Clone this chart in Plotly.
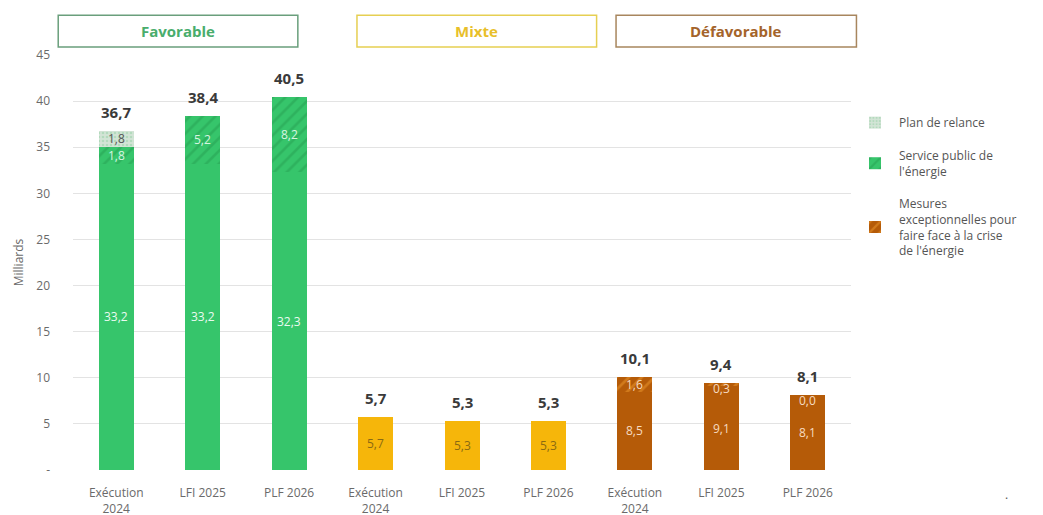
import plotly.graph_objects as go

# ---------------- data ----------------
tick_labels = ["Exécution<br>2024", "LFI 2025", "PLF 2026"] * 3
group_names = ["Favorable", "Mixte", "Défavorable"]
base_values = [33.2, 33.2, 32.3, 5.7, 5.3, 5.3, 8.5, 9.1, 8.1]
service_public = [1.8, 5.2, 8.2, None, None, None, None, None, None]
mesures_crise = [None, None, None, None, None, None, 1.6, 0.3, 0.0]
plan_relance = [1.8, None, None, None, None, None, None, None, None]
totals = [36.7, 38.4, 40.5, 5.7, 5.3, 5.3, 10.1, 9.4, 8.1]

# ---------------- styles ----------------
GREEN = "#36c56b"
GREEN_DARK = "#25a052"
YELLOW = "#f6b60a"
ORANGE = "#b55b08"
ORANGE_LIGHT = "#ee9a2e"
RELANCE = "#d3e4d6"
RELANCE_FG = "#93cfa3"
FONT = "Open Sans"
base_colors = [GREEN] * 3 + [YELLOW] * 3 + [ORANGE] * 3
base_label_colors = ["#eafaf0"] * 3 + ["#8a6a12"] * 3 + ["#f7dcc0"] * 3

x = list(range(len(tick_labels)))


def fr(v):
    return f"{v:.1f}".replace(".", ",")


fig = go.Figure()
fig.add_trace(go.Bar(
    x=x, y=base_values, marker=dict(color=base_colors, line=dict(width=0)),
    showlegend=False, hoverinfo="skip", name="base"))
fig.add_trace(go.Bar(
    x=x, y=service_public, name="Service public de<br>l'énergie", legendrank=2,
    legendgroup="b",
    marker=dict(color=GREEN, line=dict(width=0),
                pattern=dict(shape="/", fgcolor=GREEN_DARK, bgcolor=GREEN,
                             size=9, solidity=0.3))))
fig.add_trace(go.Bar(
    x=x, y=mesures_crise,
    name="Mesures<br>exceptionnelles pour<br>faire face à la crise<br>de l'énergie",
    legendrank=3, legendgroup="c",
    marker=dict(color=ORANGE, line=dict(width=0),
                pattern=dict(shape="/", fgcolor=ORANGE_LIGHT, bgcolor=ORANGE,
                             size=9, solidity=0.3))))
fig.add_trace(go.Bar(
    x=x, y=plan_relance, name="Plan de relance", legendrank=1, legendgroup="a",
    marker=dict(color=RELANCE, line=dict(width=0),
                pattern=dict(shape=".", fgcolor=RELANCE_FG, bgcolor=RELANCE,
                             size=4, solidity=0.35))))

annotations = []
# segment labels
for i in x:
    bottom = 0.0
    segs = [(base_values[i], base_label_colors[i]),
            (service_public[i], "#d8f5e0"),
            (mesures_crise[i], "#f7dcc0"),
            (plan_relance[i], "#555555")]
    for v, col in segs:
        if v is None:
            continue
        if v >= 1:
            yy = bottom + v / 2
        else:
            yy = bottom + v - 0.6
        annotations.append(dict(x=i, y=yy, xref="x", yref="y", text=fr(v),
                                showarrow=False, xanchor="center", yanchor="middle",
                                font=dict(size=12, color=col, family=FONT)))
        bottom += v
    annotations.append(dict(x=i, y=bottom, xref="x", yref="y", text=f"<b>{fr(totals[i])}</b>",
                            showarrow=False, xanchor="center", yanchor="bottom", yshift=7,
                            font=dict(size=15, color="#3a3a3a", family=FONT)))

# group header boxes
box_specs = [(-0.019, 0.289, "#6a9f7c", "#49ad6c"),
             (0.365, 0.673, "#e6cf52", "#e8bf2a"),
             (0.698, 1.007, "#a8865e", "#a4642a")]
shapes = []
for (x0, x1, lc, tc), name in zip(box_specs, group_names):
    shapes.append(dict(type="rect", xref="paper", yref="paper", x0=x0, x1=x1,
                       y0=1.019, y1=1.096, line=dict(color=lc, width=1.5),
                       fillcolor="rgba(0,0,0,0)", layer="below"))
    annotations.append(dict(x=(x0 + x1) / 2, y=1.0575, xref="paper", yref="paper",
                            text=f"<b>{name}</b>", showarrow=False,
                            xanchor="center", yanchor="middle",
                            font=dict(size=15, color=tc, family=FONT)))

annotations.append(dict(x=1.2, y=-0.06, xref="paper", yref="paper", text=".",
                        showarrow=False, xanchor="center", yanchor="middle",
                        font=dict(size=12, color="#555")))

fig.update_layout(
    width=1035, height=507,
    margin=dict(l=65, r=192, t=47, b=45),
    barmode="stack", bargap=0.595,
    plot_bgcolor="white", paper_bgcolor="white",
    font=dict(family=FONT, size=12, color="#666666"),
    shapes=shapes, annotations=annotations,
    legend=dict(x=1.0, xanchor="left", y=0.872, yanchor="top",
                traceorder="grouped", tracegroupgap=14,
                font=dict(size=12, color="#555555", family=FONT),
                itemwidth=38, bgcolor="rgba(0,0,0,0)"),
)
fig.update_xaxes(
    tickmode="array", tickvals=x, ticktext=tick_labels, range=[-0.5, 8.5],
    showgrid=False, zeroline=False, showline=False, automargin=False,
    tickfont=dict(size=12, color="#6a6a6a"), ticks="", ticklabelstandoff=14,
)
fig.update_yaxes(
    range=[0, 45], tickmode="array", tickvals=list(range(0, 50, 5)),
    ticktext=["-"] + [str(v) for v in range(5, 50, 5)],
    showgrid=True, gridcolor="#e3e3e3", gridwidth=1, zeroline=False,
    showline=False, automargin=False, ticks="", ticklabelstandoff=22,
    tickfont=dict(size=12, color="#6a6a6a"),
    title=dict(text="Milliards", font=dict(size=12, color="#6a6a6a"), standoff=10),
)

fig.write_html("out.html")
